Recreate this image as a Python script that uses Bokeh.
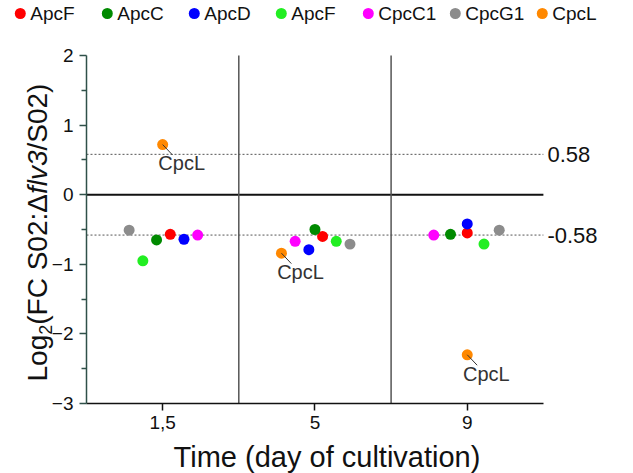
import math
from bokeh.plotting import figure
from bokeh.models import FixedTicker, ColumnDataSource, Range1d
from bokeh.embed import file_html
from bokeh.resources import INLINE
from bokeh.core.properties import value

# ---------------- data ----------------
time_labels = ["1,5", "5", "9"]
series_names = ["ApcF", "ApcC", "ApcD", "ApcF", "CpcC1", "CpcG1", "CpcL"]
series_colors = ["#ff0000", "#008a00", "#0000ff", "#22ee22", "#ff00ff", "#8c8c8c", "#ff8800"]
apcf_red = [-0.57, -0.60, -0.55]
apcc = [-0.65, -0.50, -0.57]
apcd = [-0.64, -0.79, -0.42]
apcf_green = [-0.95, -0.67, -0.71]
cpcc1 = [-0.58, -0.67, -0.58]
cpcg1 = [-0.51, -0.71, -0.51]
cpcl = [0.72, -0.84, -2.30]
threshold = 0.58
series_values = [apcf_red, apcc, apcd, apcf_green, cpcc1, cpcg1, cpcl]

# ------------- layout (dodge within each time group) -------------
dodge = [
    [0.05, 0.05, 0.0],
    [-0.04, 0.0, -0.11],
    [0.14, -0.04, 0.0],
    [-0.13, 0.14, 0.11],
    [0.23, -0.13, -0.22],
    [-0.22, 0.23, 0.21],
    [0.0, -0.22, 0.0],
]

FONT = "Liberation Sans"
AXIS_COL = "#2f5049"
TXT = "#111111"
W, H = 633, 473
PX_X, PX_Y = 152.3, 69.6          # pixels per data unit
X0 = -0.5 - 86 / PX_X             # data x at the canvas left edge
Y1 = 2 + 55 / PX_Y                # data y at the canvas top edge
MID = 0.35                        # em offset from baseline to the "middle" anchor


def px2x(px):
    return X0 + px / PX_X


def px2y(py):
    return Y1 - py / PX_Y


# The frame fills the whole canvas; the axes are pinned at the plot corner.
p = figure(width=W, height=H, x_range=Range1d(X0, X0 + W / PX_X),
           y_range=Range1d(Y1 - H / PX_Y, Y1),
           output_backend="svg", toolbar_location=None, min_border=0)
p.grid.visible = False
p.outline_line_color = None

xa = p.xaxis[0]
xa.fixed_location = -3
xa.bounds = (-0.5, 2.5)
xa.ticker = FixedTicker(ticks=[0, 1, 2])
xa.major_label_overrides = {i: t for i, t in enumerate(time_labels)}
xa.minor_tick_line_color = None
xa.major_tick_out = 7
xa.major_tick_in = 0
xa.axis_line_width = 1.5
xa.major_tick_line_width = 1.5
xa.axis_line_color = TXT
xa.major_tick_line_color = TXT
xa.major_label_standoff = 5
xa.major_label_text_font = FONT
xa.major_label_text_font_size = "19px"
xa.major_label_text_color = TXT

ya = p.yaxis[0]
ya.fixed_location = -0.5
ya.bounds = (-3, 2)
ya.ticker = FixedTicker(ticks=[-3, -2, -1, 0, 1, 2],
                        minor_ticks=[-2.5, -1.5, -0.5, 0.5, 1.5])
ya.major_tick_out = 7
ya.major_tick_in = 0
ya.minor_tick_out = 5
ya.minor_tick_in = 0
ya.axis_line_color = AXIS_COL
ya.major_tick_line_color = AXIS_COL
ya.minor_tick_line_color = AXIS_COL
ya.axis_line_width = 1.5
ya.major_tick_line_width = 1.5
ya.minor_tick_line_width = 1.5
ya.major_label_standoff = 6
ya.major_label_text_font = FONT
ya.major_label_text_font_size = "19px"
ya.major_label_text_color = TXT

# reference lines (over the group area only)
ref = ColumnDataSource(dict(x0=[-0.5, -0.5], x1=[2.5, 2.5], y=[threshold, -threshold]))
p.segment("x0", "y", "x1", "y", source=ref, line_dash="2 2", line_color="#555555", line_width=1)
p.segment(x0=-0.5, y0=0, x1=2.5, y1=0, line_color=TXT, line_width=2)
p.segment(x0=[0.5, 1.5], y0=[-3, -3], x1=[0.5, 1.5], y1=[2, 2],
          line_color="#555555", line_width=1.5)

# threshold value labels
tl = ColumnDataSource(dict(x=[2.5, 2.5], y=[threshold, -threshold],
                           t=[f"{threshold:.2f}", f"{-threshold:.2f}"]))
p.text("x", "y", text="t", source=tl, x_offset=4, text_font=value(FONT),
       text_font_size="22px", text_baseline="middle", text_color=TXT)

# points
for vals, off, col in zip(series_values, dodge, series_colors):
    src = ColumnDataSource(dict(x=[i + o for i, o in enumerate(off)], y=vals))
    p.scatter("x", "y", source=src, size=11, color=col, line_color=None)

# CpcL callouts
cx = [i + o for i, o in enumerate(dodge[6])]
call = ColumnDataSource(dict(
    x0=cx, y0=cpcl,
    x1=[v + 0.065 for v in cx], y1=[v - 0.15 for v in cpcl],
    tx=[v + 0.125 for v in cx], ty=[v - 0.37 + MID * 20 / PX_Y for v in cpcl],
    t=["CpcL"] * 3))
p.segment("x0", "y0", "x1", "y1", source=call, line_color="#333333", line_width=1)
p.text("tx", "ty", text="t", source=call, text_font=value(FONT), text_font_size="20px",
       text_align="center", text_baseline="middle", text_color="#333333")

# legend row
pitch = 87.0
lpx = [19.8 + i * pitch for i in range(len(series_names))]
leg_src = ColumnDataSource(dict(x=[px2x(v) for v in lpx], tx=[px2x(v + 10) for v in lpx],
                                y=[px2y(13)] * len(lpx), name=series_names,
                                color=series_colors))
p.scatter("x", "y", source=leg_src, size=11, color="color", line_color=None)
p.text("tx", "y", text="name", source=leg_src, text_font=value(FONT),
       text_font_size="19px", text_baseline="middle", text_color=TXT)

# x title
p.text(x=[px2x(326.5)], y=[px2y(456)], text=["Time (day of cultivation)"],
       text_font=value(FONT), text_font_size="29px", text_align="center",
       text_baseline="middle", text_color=TXT)

# y title, in pieces (subscript 2, italic flv3); rotated, baseline at x = 46.6 px
pieces = [("Log", 28, "normal", 0), ("2", 18, "normal", 5),
          ("(FC S02:\u0394", 28, "normal", 0), ("flv3", 28, "italic", 0),
          ("/S02)", 28, "normal", 0)]
em = {"Log": 1.668, "2": 0.556, "(FC S02:\u0394": 4.669, "flv3": 1.556, "/S02)": 2.39}
cum = 0.0
for txt, fs, style, shift in pieces:
    p.text(x=[px2x(46.6 + shift - MID * fs)], y=[px2y(381 - cum)], text=[txt],
           angle=math.pi / 2, text_font=value(FONT), text_font_size=f"{fs}px",
           text_font_style=style, text_align="left", text_baseline="middle",
           text_color=TXT)
    cum += em[txt] * fs

open("out.html", "w").write(file_html(p, INLINE))
